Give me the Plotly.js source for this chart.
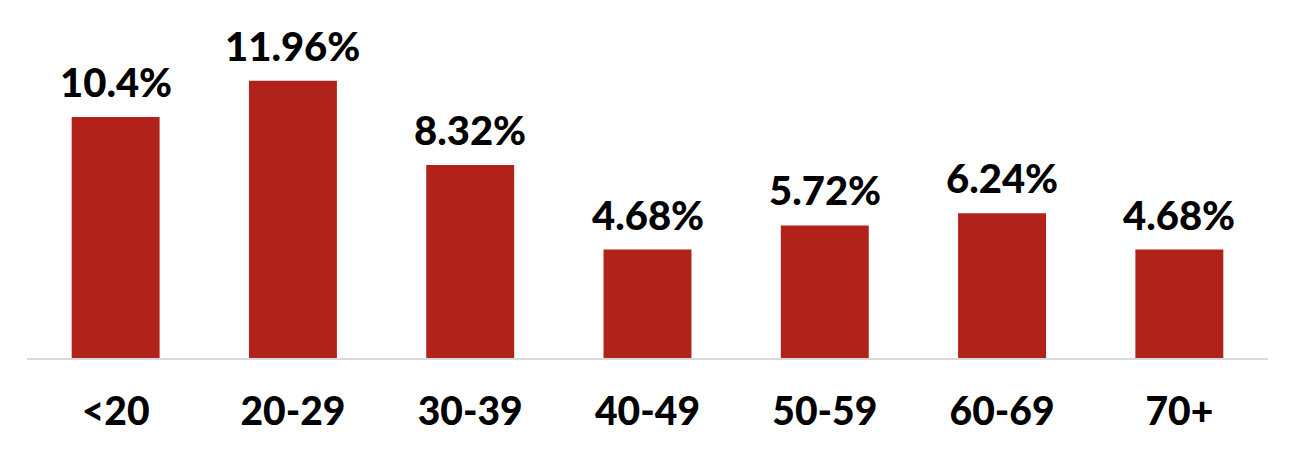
<!DOCTYPE html>
<html>
<head>
<meta charset="utf-8">
<script src="https://cdn.plot.ly/plotly-3.0.1.min.js"></script>
<style>
  html, body { margin: 0; padding: 0; background: #fff; }
  #chart { width: 1298px; height: 454px; }
</style>
</head>
<body>
<div id="chart"></div>
<script>
// age groups and share of cases
var ageGroups = ['<20', '20-29', '30-39', '40-49', '50-59', '60-69', '70+'];
var shares = [10.4, 11.96, 8.32, 4.68, 5.72, 6.24, 4.68];
var shareLabels = ['10.4%', '11.96%', '8.32%', '4.68%', '5.72%', '6.24%', '4.68%'];

var barColor = '#B0221A';
var fontFam = 'Lato, "Open Sans", sans-serif';

var trace = {
  x: ageGroups,
  y: shares,
  type: 'bar',
  marker: {color: barColor},
  hoverinfo: 'none'
};

var notes = [];
for (let i = 0; i < ageGroups.length; i++) {
  notes.push({
    x: ageGroups[i],
    y: shares[i],
    text: shareLabels[i],
    showarrow: false,
    xanchor: 'center',
    yanchor: 'bottom',
    yshift: 9,
    font: {family: fontFam, size: 40, color: '#000', weight: 900}
  });
}

var layout = {
  width: 1298,
  height: 454,
  margin: {l: 27, r: 30, t: 20, b: 96},
  paper_bgcolor: '#fff',
  plot_bgcolor: '#fff',
  bargap: 0.504,
  showlegend: false,
  xaxis: {
    showline: true,
    linecolor: '#D9D9D9',
    linewidth: 2,
    ticks: '',
    showgrid: false,
    zeroline: false,
    tickfont: {family: fontFam, size: 39, color: '#000', weight: 900},
    ticklabelstandoff: 18
  },
  yaxis: {
    range: [0, 14.58],
    visible: false,
    showgrid: false,
    zeroline: false
  },
  annotations: notes
};

Plotly.newPlot('chart', [trace], layout, {displayModeBar: false, staticPlot: true});
</script>
</body>
</html>
